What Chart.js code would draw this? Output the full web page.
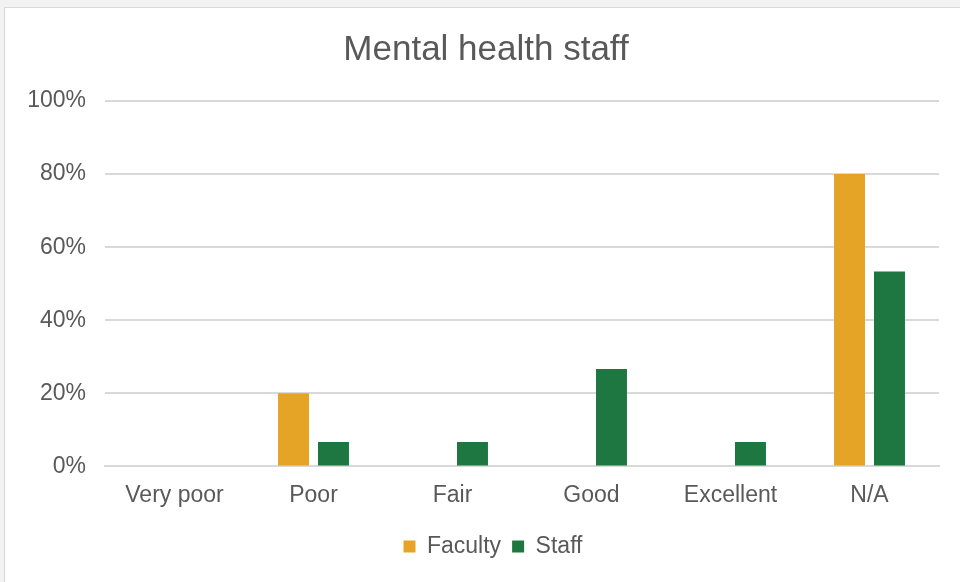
<!DOCTYPE html>
<html>
<head>
<meta charset="utf-8">
<script src="https://cdn.jsdelivr.net/npm/chart.js@4/dist/chart.umd.min.js"></script>
<style>
  html, body { margin: 0; padding: 0; background: #f2f2f2; width: 960px; height: 582px; overflow: hidden; }
  #frame { position: absolute; left: 4px; top: 7px; width: 955px; height: 574px; background: #ffffff; border-left: 1px solid #d9d9d9; border-top: 1px solid #d9d9d9; }
  canvas { display: block; }
</style>
</head>
<body>
<div id="frame"><canvas id="c" width="955" height="574"></canvas></div>
<script>
const categories = ["Very poor", "Poor", "Fair", "Good", "Excellent", "N/A"];
const facultyValues = [0, 20, 0, 0, 0, 80];
const staffValues = [0, 6.67, 6.67, 26.67, 6.67, 53.33];
const yTicks = [0, 20, 40, 60, 80, 100];

const textColor = "#595959";
const gridColor = "#d9d9d9";
const fontFamily = "Liberation Sans, Arial, sans-serif";

const shiftBoxes = {
  id: "shiftBoxes",
  afterLayout(chart) {
    if (chart.titleBlock) { chart.titleBlock.left += 14; chart.titleBlock.right += 14; }
    if (chart.legend) { chart.legend.left += 21; chart.legend.right += 21; }
  }
};

new Chart(document.getElementById("c"), {
  type: "bar",
  data: {
    labels: categories,
    datasets: [
      { label: "Faculty", data: facultyValues, backgroundColor: "#E6A427", categoryPercentage: 0.575, barPercentage: 0.775 },
      { label: "Staff", data: staffValues, backgroundColor: "#1E7740", categoryPercentage: 0.575, barPercentage: 0.775 }
    ]
  },
  plugins: [shiftBoxes],
  options: {
    responsive: false,
    animation: false,
    events: [],
    layout: { padding: { left: 0, right: 21, top: 0, bottom: 14 } },
    plugins: {
      title: {
        display: true,
        text: "Mental health staff",
        color: textColor,
        font: { family: fontFamily, size: 35, weight: "normal" },
        padding: { top: 21, bottom: 30 }
      },
      legend: {
        position: "bottom",
        labels: {
          color: textColor,
          font: { family: fontFamily, size: 23 },
          boxWidth: 12,
          boxHeight: 12,
          padding: 11
        }
      },
      tooltip: { enabled: false }
    },
    scales: {
      x: {
        grid: { display: false, drawTicks: false },
        border: { display: true, color: gridColor, width: 2 },
        ticks: { color: textColor, font: { family: fontFamily, size: 23 }, padding: 15 }
      },
      y: {
        min: 0,
        max: 100,
        afterBuildTicks: (s) => { s.ticks = yTicks.map(v => ({ value: v })); },
        afterFit: (s) => { s.width = 100; },
        grid: { color: gridColor, lineWidth: 2, drawTicks: false },
        border: { display: false },
        ticks: {
          color: textColor,
          font: { family: fontFamily, size: 23 },
          padding: 19,
          callback: (v) => v + "%"
        }
      }
    }
  }
});
</script>
</body>
</html>
